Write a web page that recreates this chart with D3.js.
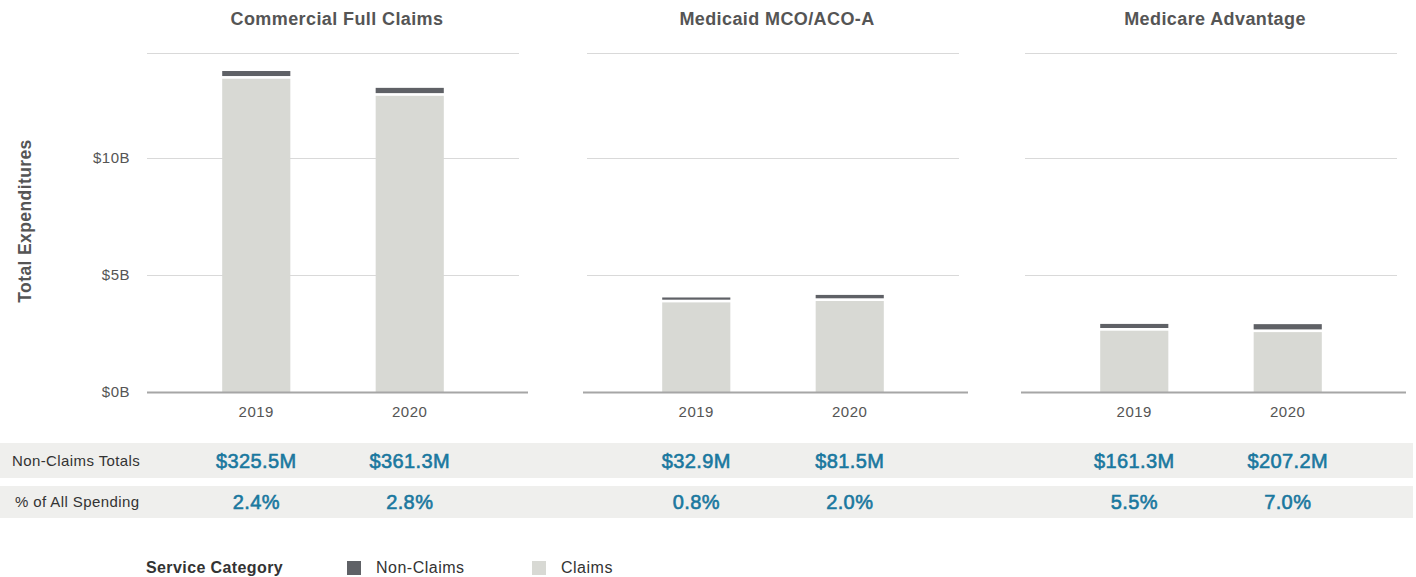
<!DOCTYPE html>
<html>
<head>
<meta charset="utf-8">
<script src="https://cdn.jsdelivr.net/npm/d3@7"></script>
<style>
  body { margin: 0; background: #fff; }
  text { font-family: "Liberation Sans", Arial, sans-serif; }
</style>
</head>
<body>
<script>
var width  = 1416,
    height = 577;

// data (billions of dollars)
var segments  = ['Commercial Full Claims', 'Medicaid MCO/ACO-A', 'Medicare Advantage'];
var years     = ['2019', '2020'];
var claims    = [[13.39, 12.66], [3.83, 3.89], [2.62, 2.56]];
var nonClaims = [[0.33, 0.34], [0.21, 0.26], [0.29, 0.34]];
var nonClaimsTotals = [['$325.5M', '$361.3M'], ['$32.9M', '$81.5M'], ['$161.3M', '$207.2M']];
var pctOfSpending   = [['2.4%', '2.8%'], ['0.8%', '2.0%'], ['5.5%', '7.0%']];
var yTicks     = [0, 5, 10];
var tableRows  = ['Non-Claims Totals', '% of All Spending'];
var legendKeys = ['Non-Claims', 'Claims'];

var darkColor  = '#5f6166',
    lightColor = '#d8d9d4',
    blue       = '#1a789f';

var svg = d3.select('body').append('svg')
    .attr('width', width)
    .attr('height', height);

var panelLeft  = [147, 587, 1025],
    panelWidth = 372;

var y = d3.scaleLinear()
    .domain([0, 14.49])
    .range([392, 53]);

var x = d3.scaleBand()
    .domain(years)
    .range([0, panelWidth])
    .paddingInner(0.556)
    .paddingOuter(0.49);

// y axis title
svg.append('text')
    .attr('transform', 'translate(31,' + 221 + ') rotate(-90)')
    .attr('text-anchor', 'middle')
    .attr('font-size', 17.5)
    .attr('letter-spacing', 0.4)
    .attr('font-weight', 'bold')
    .attr('fill', '#555')
    .text('Total Expenditures');

// y tick labels
svg.selectAll('.ytick').data(yTicks).enter().append('text')
    .attr('class', 'ytick')
    .attr('x', 130)
    .attr('y', function(d) { return y(d) + 5; })
    .attr('text-anchor', 'end')
    .attr('font-size', 15)
    .attr('letter-spacing', 0.5)
    .attr('fill', '#555')
    .text(function(d) { return '$' + d + 'B'; });

segments.forEach(function(seg, i) {
  var g = svg.append('g')
      .attr('transform', 'translate(' + panelLeft[i] + ',0)');

  // gridlines
  g.selectAll('.grid').data(yTicks.slice(1).concat([y.domain()[1]])).enter().append('line')
      .attr('x1', 0)
      .attr('x2', panelWidth)
      .attr('y1', function(d) { return Math.round(y(d)) + 0.5; })
      .attr('y2', function(d) { return Math.round(y(d)) + 0.5; })
      .attr('stroke', '#d9d9d9')
      .attr('stroke-width', 1);

  // title
  g.append('text')
      .attr('x', panelWidth / 2 + 4)
      .attr('y', 25)
      .attr('text-anchor', 'middle')
      .attr('font-size', 18)
      .attr('letter-spacing', 0.4)
      .attr('font-weight', 'bold')
      .attr('fill', '#555')
      .text(seg);

  var rows = years.map(function(yr, j) {
    return {year: yr, claims: claims[i][j], non: nonClaims[i][j]};
  });

  // claims
  g.selectAll('.claims').data(rows).enter().append('rect')
      .attr('x', function(d) { return x(d.year); })
      .attr('width', x.bandwidth())
      .attr('y', function(d) { return y(d.claims); })
      .attr('height', function(d) { return y(0) - y(d.claims); })
      .attr('fill', lightColor);

  // non-claims
  g.selectAll('.non').data(rows).enter().append('rect')
      .attr('x', function(d) { return x(d.year); })
      .attr('width', x.bandwidth())
      .attr('y', function(d) { return y(d.claims + d.non); })
      .attr('height', function(d) { return Math.max(1.5, y(d.claims) - y(d.claims + d.non) - 2.7); })
      .attr('fill', darkColor);

  // baseline
  g.append('line')
      .attr('x1', i === 0 ? 0 : -4)
      .attr('x2', panelWidth + 9)
      .attr('y1', y(0) + 0.5)
      .attr('y2', y(0) + 0.5)
      .attr('stroke', '#a6a6a6')
      .attr('stroke-width', 2);

  // year labels
  g.selectAll('.year').data(years).enter().append('text')
      .attr('x', function(d) { return x(d) + x.bandwidth() / 2; })
      .attr('y', 417)
      .attr('text-anchor', 'middle')
      .attr('font-size', 15)
      .attr('letter-spacing', 0.5)
      .attr('fill', '#555')
      .text(function(d) { return d; });
});

// table
var rowTop = [443, 486], rowH = [35, 32];

tableRows.forEach(function(label, r) {
  svg.append('rect')
      .attr('x', 0)
      .attr('y', rowTop[r])
      .attr('width', 1413)
      .attr('height', rowH[r])
      .attr('fill', '#efefed');

  svg.append('text')
      .attr('x', r === 0 ? 12 : 15)
      .attr('y', rowTop[r] + rowH[r] / 2 + 5)
      .attr('font-size', 15)
      .attr('letter-spacing', 0.4)
      .attr('fill', '#333')
      .text(label);

  var vals = r === 0 ? nonClaimsTotals : pctOfSpending;
  segments.forEach(function(seg, i) {
    years.forEach(function(yr, j) {
      svg.append('text')
          .attr('x', panelLeft[i] + x(yr) + x.bandwidth() / 2)
          .attr('y', rowTop[r] + rowH[r] / 2 + 7)
          .attr('text-anchor', 'middle')
          .attr('font-size', 20)
          .attr('letter-spacing', 0.4)
          .attr('fill', blue)
          .attr('stroke', blue)
          .attr('stroke-width', 0.6)
          .text(vals[i][j]);
    });
  });
});

// legend
svg.append('text')
    .attr('x', 146)
    .attr('y', 573)
    .attr('font-size', 16)
    .attr('letter-spacing', 0.4)
    .attr('font-weight', 'bold')
    .attr('fill', '#333')
    .text('Service Category');

var legendX = [347, 532];
legendKeys.forEach(function(k, i) {
  svg.append('rect')
      .attr('x', legendX[i])
      .attr('y', 561)
      .attr('width', 14)
      .attr('height', 14)
      .attr('fill', i === 0 ? darkColor : lightColor);
  svg.append('text')
      .attr('x', legendX[i] + 29)
      .attr('y', 573)
      .attr('font-size', 16)
      .attr('letter-spacing', 0.5)
      .attr('fill', '#333')
      .text(k);
});
</script>
</body>
</html>
